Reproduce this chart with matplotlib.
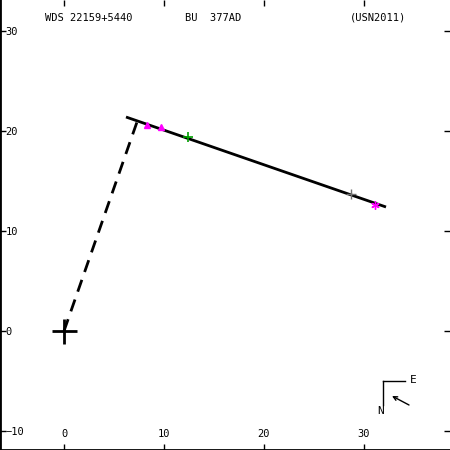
import matplotlib
matplotlib.use('Agg')
import matplotlib.pyplot as plt

# 軌道 (直線近似) と観測点
fit_x = [6.2, 32.2]
fit_y = [21.4, 12.4]

# 主星から最初の観測点への破線
link_x = [0.0, 7.3]
link_y = [0.0, 20.9]

tri_x = [8.3, 9.7]
tri_y = [20.6, 20.4]

green_x = [12.4]
green_y = [19.4]

gray_x = [28.7]
gray_y = [13.7]

star_x = [31.1]
star_y = [12.6]

xticks = [0, 10, 20, 30]
yticks = [-10, 0, 10, 20, 30]

title_left = 'WDS 22159+5440'
title_mid = 'BU  377AD'
title_right = '(USN2011)'


def main():
    plt.rcParams['font.family'] = ['DejaVu Sans Mono']
    fig = plt.figure(figsize=(4.5, 4.5), dpi=100)
    ax = fig.add_axes([0, 0, 1, 1])
    ax.set_xlim(-6.4, 38.6)
    ax.set_ylim(-11.9, 33.1)

    ax.plot(fit_x, fit_y, color='black', lw=2, solid_capstyle='butt')
    ax.plot(link_x, link_y, color='black', lw=2, dashes=(4.5, 3))

    ax.plot(tri_x, tri_y, '^', color='#ff00ff', ms=5, mec='#ff00ff')
    ax.plot(green_x, green_y, '+', color='#00a000', ms=7, mew=1.2)
    ax.plot(gray_x, gray_y, '+', color='#707070', ms=7, mew=1)
    ax.plot(star_x, star_y, marker=(6, 2, 0), color='#ff00ff', ms=6, mew=1, ls='none')

    # 主星
    ax.plot([0], [0], '+', color='black', ms=18, mew=2)

    # 方位 (N, E)
    ax.plot([31.9, 34.1], [-5.0, -5.0], color='black', lw=1)
    ax.plot([31.9, 31.9], [-5.0, -7.4], color='black', lw=1)
    ax.text(34.9, -4.9, 'E', fontsize=8, ha='center', va='center')
    ax.text(31.7, -8.0, 'N', fontsize=8, ha='center', va='center')
    ax.annotate('', xy=(32.8, -6.5), xytext=(34.5, -7.4),
                arrowprops=dict(arrowstyle='->', lw=1, color='black',
                                mutation_scale=7, shrinkA=0, shrinkB=0))

    # 見出し
    ax.text(45 / 450, 1 - 18 / 450, title_left, transform=ax.transAxes,
            fontsize=7.5, va='center', ha='left')
    ax.text(185 / 450, 1 - 18 / 450, title_mid, transform=ax.transAxes,
            fontsize=7.5, va='center', ha='left')
    ax.text(350 / 450, 1 - 18 / 450, title_right, transform=ax.transAxes,
            fontsize=7.5, va='center', ha='left')

    # 軸
    ax.set_xticks(xticks)
    ax.set_yticks(yticks)
    ax.tick_params(direction='in', length=4, width=1, top=True, right=True,
                   labelsize=7.5, labeltop=False, labelright=False)
    ax.tick_params(axis='x', pad=-8)
    ax.tick_params(axis='y', pad=-4)
    for lab in ax.get_xticklabels():
        lab.set_va('bottom')
    for lab in ax.get_yticklabels():
        lab.set_ha('left')
    ax.spines['top'].set_visible(False)
    ax.spines['right'].set_visible(False)
    ax.spines['left'].set_linewidth(2)
    ax.spines['bottom'].set_linewidth(2)

    fig.savefig('out.png', dpi=100)


if __name__ == '__main__':
    main()
